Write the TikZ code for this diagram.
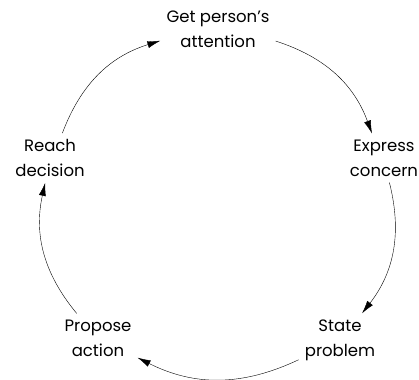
\documentclass[tikz,border=0pt]{standalone}
\usepackage{fontspec}
\setmainfont{Poppins}
\usetikzlibrary{arrows.meta}

\tikzset{
	stage/.style={align=center, font=\fontsize{16.5}{25}\selectfont, inner sep=6pt},
	cycle/.style={-{Latex[length=13pt,width=7pt]}, thin, bend left=26}
}

\begin{document}
\begin{tikzpicture}[x=1pt,y=1pt]
		\useasboundingbox (0,0) rectangle (419,-379);

		\node[stage] (att) at (218,-29) {Get person's\\attention};
		\node[stage] (con) at (384,-158) {Express\\concern};
		\node[stage] (pro) at (340,-340) {State\\problem};
		\node[stage] (act) at (98,-338) {Propose\\action};
		\node[stage] (dec) at (50,-158) {Reach\\decision};

		\draw[cycle] (att) to (con);
		\draw[cycle] (con) to (pro);
		\draw[cycle] (pro) to (act);
		\draw[cycle] (act) to (dec);
		\draw[cycle] (dec) to (att);
	\end{tikzpicture}
\end{document}
